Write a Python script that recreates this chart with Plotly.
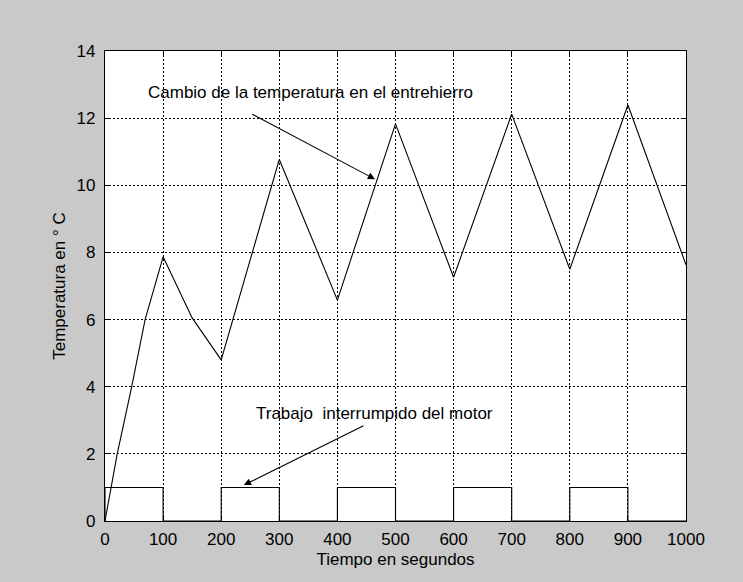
import plotly.graph_objects as go

# Air-gap temperature rise (°C) over time (s)
time_s = [0, 21, 46, 69, 100, 150, 200, 300, 400, 500, 600, 700, 800, 900, 1000]
temp_c = [0, 2.0, 4.0, 6.0, 7.87, 6.05, 4.8, 10.77, 6.58, 11.83, 7.26, 12.12, 7.5, 12.39, 7.63]

# Intermittent motor duty (1 = running)
duty_t = [0, 0, 100, 100, 200, 200, 300, 300, 400, 400, 500, 500, 600, 600, 700, 700,
          800, 800, 900, 900, 1000]
duty_v = [0, 1, 1, 0, 0, 1, 1, 0, 0, 1, 1, 0, 0, 1, 1, 0, 0, 1, 1, 0, 0]

x_ticks = [0, 100, 200, 300, 400, 500, 600, 700, 800, 900, 1000]
y_ticks = [0, 2, 4, 6, 8, 10, 12, 14]

label_temp = "Cambio de la temperatura en el entrehierro"
label_duty = "Trabajo  interrumpido del motor"

FONT = "Liberation Sans, Arial, sans-serif"
FS = 17

fig = go.Figure()
fig.add_trace(go.Scatter(x=duty_t, y=duty_v, mode="lines",
                         line=dict(color="black", width=1.1), hoverinfo="skip"))
fig.add_trace(go.Scatter(x=time_s, y=temp_c, mode="lines",
                         line=dict(color="black", width=1.1), hoverinfo="skip"))

axis_common = dict(
    showgrid=True, gridcolor="black", gridwidth=1, griddash="2px,2px",
    showline=True, linecolor="black", linewidth=1.2, mirror="ticks",
    ticks="inside", ticklen=4, tickcolor="black",
    tickfont=dict(family=FONT, size=FS, color="black"),
    zeroline=False,
)

fig.update_xaxes(range=[0, 1000], tickvals=x_ticks, ticktext=[str(v) for v in x_ticks],
                 ticklabelstandoff=2,
                 title=dict(text="Tiempo en segundos", standoff=5,
                            font=dict(family=FONT, size=FS, color="black")),
                 **axis_common)
fig.update_yaxes(range=[0, 14], tickvals=y_ticks, ticktext=[str(v) for v in y_ticks],
                 ticklabelstandoff=5,
                 title=dict(text="Temperatura en ° C", standoff=6,
                            font=dict(family=FONT, size=FS, color="black")),
                 **axis_common)

fig.add_annotation(x=70.6, y=12.76, text=label_temp, showarrow=False,
                   xanchor="left", yanchor="middle",
                   font=dict(family=FONT, size=FS, color="black"))
fig.add_annotation(x=256.5, y=3.21, text=label_duty, showarrow=False,
                   xanchor="left", yanchor="middle",
                   font=dict(family=FONT, size=FS, color="black"))

fig.add_annotation(x=464.7, y=10.18, ax=250.8, ay=12.14, xref="x", yref="y",
                   axref="x", ayref="y", text="", showarrow=True,
                   arrowhead=2, arrowsize=1.3, arrowwidth=1.1, arrowcolor="black")
fig.add_annotation(x=239, y=1.07, ax=447.5, ay=2.86, xref="x", yref="y",
                   axref="x", ayref="y", text="", showarrow=True,
                   arrowhead=2, arrowsize=1.3, arrowwidth=1.1, arrowcolor="black")

fig.update_layout(
    width=743, height=582,
    margin=dict(l=105, r=57, t=51, b=61),
    paper_bgcolor="#c9c9c9", plot_bgcolor="white",
    showlegend=False,
    font=dict(family=FONT, size=FS, color="black"),
)

fig.write_html("out.html")
